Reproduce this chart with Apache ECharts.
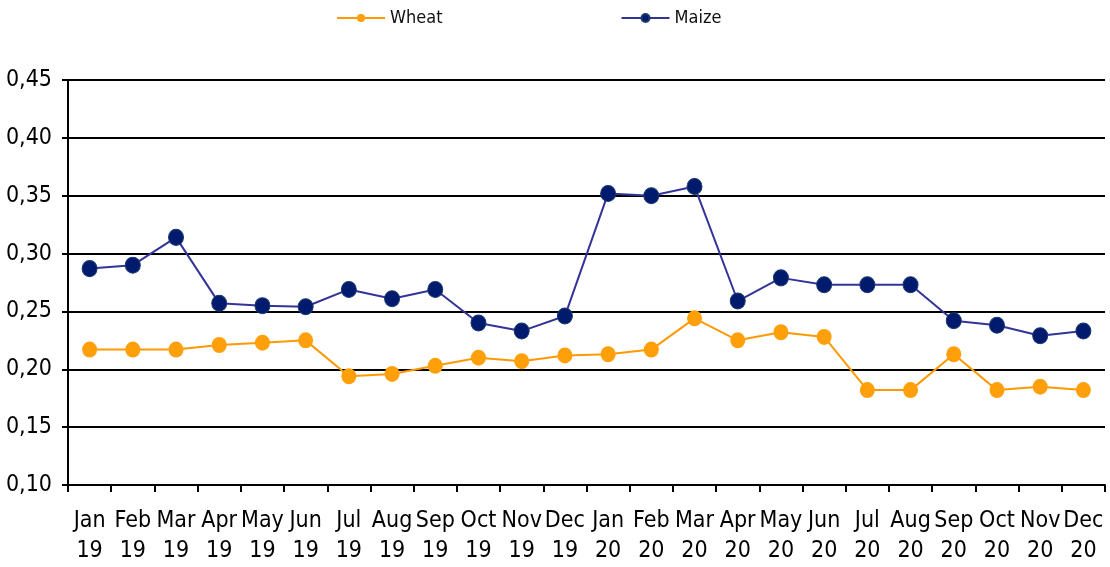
<!DOCTYPE html>
<html>
<head>
<meta charset="utf-8">
<script src="https://cdn.jsdelivr.net/npm/echarts@6/dist/echarts.min.js"></script>
<style>
  body { margin: 0; background: #fff; }
  #chart { width: 1110px; height: 567px; }
</style>
</head>
<body>
<div id="chart"></div>
<script>
const months = ["Jan", "Feb", "Mar", "Apr", "May", "Jun", "Jul", "Aug", "Sep", "Oct", "Nov", "Dec"];
const years = ["19", "20"];
const categories = [];
years.forEach((y) => months.forEach((m) => categories.push(m + "\n" + y)));

const wheat = [0.217, 0.217, 0.217, 0.221, 0.223, 0.225, 0.194, 0.196, 0.203, 0.210, 0.207, 0.212,
  0.213, 0.217, 0.244, 0.225, 0.232, 0.228, 0.182, 0.182, 0.213, 0.182, 0.185, 0.182];
const maize = [0.287, 0.290, 0.314, 0.257, 0.255, 0.254, 0.269, 0.261, 0.269, 0.240, 0.233, 0.246,
  0.352, 0.350, 0.358, 0.259, 0.279, 0.273, 0.273, 0.273, 0.242, 0.238, 0.229, 0.233];

const font = "'DejaVu Sans Condensed', 'Liberation Sans Narrow', sans-serif";
const chart = echarts.init(document.getElementById("chart"));

chart.setOption({
  animation: false,
  textStyle: { fontFamily: font },
  legend: {
    top: 4,
    left: 331,
    itemGap: 178,
    itemWidth: 48,
    itemHeight: 10,
    textStyle: { fontSize: 18, color: "#111", fontFamily: font },
    data: ["Wheat", "Maize"],
  },
  grid: { left: 68, right: 5, top: 80, bottom: 82 },
  xAxis: {
    type: "category",
    data: categories,
    boundaryGap: true,
    axisLine: { lineStyle: { color: "#000", width: 2 } },
    axisTick: { show: true, length: 7, lineStyle: { color: "#000", width: 2 } },
    axisLabel: {
      interval: 0,
      color: "#000",
      fontSize: 23,
      lineHeight: 30,
      margin: 21,
      fontFamily: font,
    },
  },
  yAxis: {
    type: "value",
    min: 0.1,
    max: 0.45,
    interval: 0.05,
    axisLine: { show: true, lineStyle: { color: "#000", width: 2 } },
    axisTick: { show: true, length: 6, lineStyle: { color: "#000", width: 2 } },
    splitLine: { lineStyle: { color: "#000", width: 2 } },
    axisLabel: {
      color: "#000",
      fontSize: 23,
      margin: 16,
      fontFamily: font,
      formatter: (v) => v.toFixed(2).replace(".", ","),
    },
  },
  series: [
    {
      name: "Wheat",
      type: "line",
      data: wheat,
      symbol: "circle",
      symbolSize: [15, 16],
      lineStyle: { color: "#FF9900", width: 2 },
      itemStyle: { color: "#FF9F0A" },
    },
    {
      name: "Maize",
      type: "line",
      data: maize,
      symbol: "circle",
      symbolSize: [15, 16],
      lineStyle: { color: "#333399", width: 2 },
      itemStyle: { color: "#001A6E", borderColor: "#1A3A6E", borderWidth: 1 },
    },
  ],
});
</script>
</body>
</html>
